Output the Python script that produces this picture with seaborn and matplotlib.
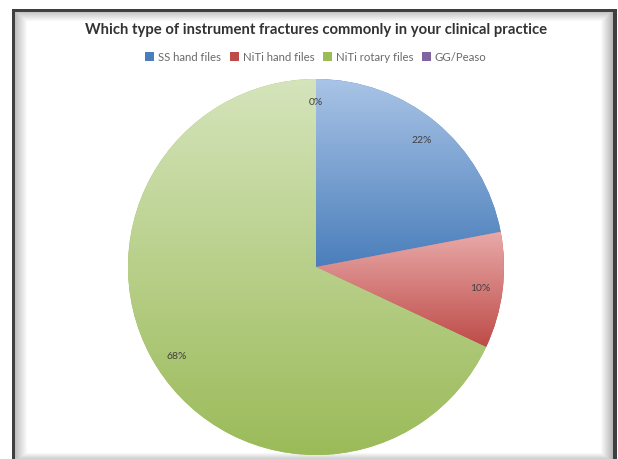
import numpy as np
import matplotlib
matplotlib.use("Agg")
import matplotlib.pyplot as plt
import matplotlib.patches as mpatches
import seaborn as sns

sns.set_theme(style="white")
plt.rcParams["font.family"] = ["Lato", "DejaVu Sans"]

# Survey answers
categories = ["SS hand files", "NiTi hand files", "NiTi rotary files", "GG/Peaso"]
percentages = [22, 10, 68, 0]
title = "Which type of instrument fractures commonly in your clinical practice"

# Office-style fills: light top shade -> base colour at the bottom of each slice
base_colors = ["#4a7ebb", "#be4b48", "#9bbb59", "#8064a2"]
top_colors = ["#a9c4e6", "#e8aaa9", "#d5e4bb", "#c2b4d6"]

W, H = 618, 460
fig = plt.figure(figsize=(W / 100, H / 100), dpi=100)

# Frame with a soft inner shadow, drawn as a background image
bg = fig.add_axes([0, 0, 1, 1])
img = np.ones((H, W, 3))
yy, xx = np.mgrid[0:H, 0:W]
inside = (xx >= 15) & (xx <= 612) & (yy >= 13)
shade = np.ones((H, W))
shade = np.minimum(shade, 0.75 + 0.25 * np.clip((xx - 15) / 12, 0, 1))
shade = np.minimum(shade, 0.78 + 0.22 * np.clip((yy - 13) / 9, 0, 1))
shade = np.minimum(shade, 0.72 + 0.28 * np.clip((612 - xx) / 12, 0, 1))
shade = np.minimum(shade, 0.82 + 0.18 * np.clip((H - 1 - yy) / 6, 0, 1))
for c in range(3):
    img[..., c] = np.where(inside, shade, 1.0)
dark = ((xx >= 12) & (xx <= 14) & (yy >= 10)) | ((yy >= 10) & (yy <= 12) & (xx >= 12) & (xx <= 616)) | ((xx >= 613) & (xx <= 616) & (yy >= 10))
img[dark] = 0.25
bg.imshow(img, extent=(0, W, H, 0), interpolation="bilinear")
bg.set_axis_off()

# Pie: centre (316, 268) px, radius 188 px
cx, cy, r = 316, 268, 188
ax = fig.add_axes([(cx - r) / W, (H - cy - r) / H, 2 * r / W, 2 * r / H])
ax.patch.set_alpha(0)
wedges, _, autotexts = ax.pie(
    percentages, colors=base_colors, startangle=90, counterclock=False,
    radius=1, autopct=lambda p: f"{p:.0f}%", pctdistance=0.88,
    wedgeprops=dict(linewidth=0),
    textprops=dict(fontsize=7.5, color="#404040"),
)

for wedge, top, bottom in zip(wedges, top_colors, base_colors):
    ext = wedge.get_path().get_extents()
    if ext.width <= 0 or ext.height <= 0:
        continue
    t = np.linspace(0, 1, 256)[:, None]
    c0 = np.array(matplotlib.colors.to_rgb(bottom))
    c1 = np.array(matplotlib.colors.to_rgb(top))
    grad = (c0 * (1 - t) + c1 * t)[:, None, :]
    im = ax.imshow(grad, extent=(ext.x0, ext.x1, ext.y0, ext.y1), origin="lower",
                   aspect="auto", interpolation="bilinear", zorder=1.5)
    im.set_clip_path(wedge)

for txt in autotexts:
    txt.set_zorder(3)

ax.set_xlim(-1, 1)
ax.set_ylim(-1, 1)
ax.set_aspect("equal")
ax.set_axis_off()

fig.text(cx / W, 1 - 30 / H, title, ha="center", va="center",
         fontsize=10.7, fontweight="bold", color="#333333")

handles = [mpatches.Patch(facecolor=c, edgecolor="none") for c in base_colors]
fig.legend(handles, categories, loc="center", bbox_to_anchor=(cx / W, 1 - 58 / H),
           ncol=4, frameon=False, fontsize=8.2, labelcolor="#6a6a6a",
           handlelength=0.75, handleheight=0.75, handletextpad=0.35, columnspacing=0.8)

fig.savefig("out.png", dpi=100)
